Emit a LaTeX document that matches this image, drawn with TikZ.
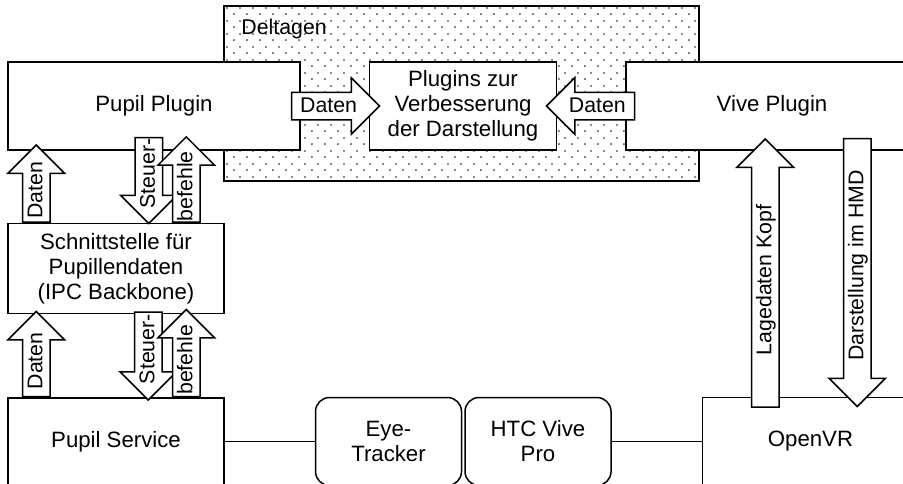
\documentclass[tikz,border=0pt]{standalone}
\usepackage{fontspec}
\setmainfont{Liberation Sans}
\usetikzlibrary{positioning,shapes.arrows,patterns.meta}

\newcommand\diagfont{\fontsize{22.2}{25}\selectfont}
\newcommand\arrowfont{\fontsize{21.3}{25}\selectfont}

% sparse staggered dots for the Deltagen area
\tikzdeclarepattern{
  name=deltadots,
  type=uncolored,
  bottom left={(-1pt,-1pt)},
  top right={(12pt,11.5pt)},
  tile size={(13pt,12.5pt)},
  code={
    \fill (0pt,0pt) circle (0.95pt);
    \fill (6.5pt,6.25pt) circle (0.95pt);
  }
}

\begin{document}
\begin{tikzpicture}[
  x=1pt, y=-1pt,
  box/.style={draw, fill=white, line width=1.5pt, align=center, font=\diagfont, inner sep=0pt},
  roundbox/.style={box, rounded corners=14pt},
  fatarrow/.style={single arrow, draw, fill=white, line width=1.5pt, font=\arrowfont,
    single arrow head extend=14.5pt, inner xsep=0pt, inner ysep=3pt,
    text height=16pt, text depth=4pt, anchor=tail},
  uparrow/.style={fatarrow, rotate=90},
  downarrow/.style={fatarrow, rotate=90, shape border rotate=180},
  link/.style={line width=1.5pt}
]
\useasboundingbox (0,0) rectangle (903,483);
\clip (0,0) rectangle (903,483);

% Deltagen area
\node[draw, line width=1.5pt, pattern=deltadots, pattern color=black!90,
  minimum width=475pt, minimum height=175pt, inner sep=0pt] (deltagen) at (461.5,93.5) {};
\node[font=\arrowfont, anchor=base west, inner sep=0pt] (deltalabel)
  at ([xshift=18pt,yshift=-29pt]deltagen.north west) {Deltagen};

% boxes
\node[box, minimum width=292pt, minimum height=88pt] (pplugin) at (154,106) {Pupil Plugin};
\node[box, minimum width=187pt, minimum height=88pt, right=68pt of pplugin] (improve)
  {Plugins zur\\Verbesserung\\der Darstellung};
\node[box, minimum width=292pt, minimum height=88pt, right=68pt of improve] (vplugin) {Vive Plugin};
\node[box, minimum width=216pt, minimum height=90pt, below right=72pt and 0pt of pplugin.south west] (backbone)
  {Schnittstelle für\\Pupillendaten\\(IPC Backbone)};
\node[box, minimum width=216pt, minimum height=87pt, below=83pt of backbone] (pservice) {Pupil Service};
\node[roundbox, minimum width=146pt, minimum height=88pt, right=90pt of pservice] (eyetracker) {Eye-\\Tracker};
\node[roundbox, minimum width=146pt, minimum height=88pt, right=2pt of eyetracker] (htcvive) {HTC Vive\\Pro};
\node[box, minimum width=216pt, minimum height=88pt, right=90pt of htcvive] (openvr) {OpenVR};

\draw[link] (pservice) -- (eyetracker);
\draw[link] (htcvive) -- (openvr);

% block arrows
\node[fatarrow, minimum height=88pt] (datenin) at ([xshift=-10pt]pplugin.east) {Daten};
\node[fatarrow, shape border rotate=180, minimum height=88pt] (datenvive) at ([xshift=10pt]vplugin.west) {Daten};
\node[uparrow, minimum height=77pt] (daten1) at ([xshift=29pt]backbone.north west) {Daten};
\node[downarrow, minimum height=86pt] (steuer1) at ([xshift=141.5pt,yshift=14pt]pplugin.south west) {Steuer-};
\node[uparrow, minimum height=82pt] (befehle1) at ([xshift=179pt]backbone.north west) {befehle};
\node[uparrow, minimum height=85pt] (daten2) at ([xshift=29pt]pservice.north west) {Daten};
\node[downarrow, minimum height=88pt] (steuer2) at ([xshift=141pt,yshift=3pt]backbone.south west) {Steuer-};
\node[uparrow, minimum height=87pt] (befehle2) at ([xshift=179pt]pservice.north west) {befehle};
\node[uparrow, minimum height=268pt] (lagedaten) at ([xshift=63.5pt,yshift=-11pt]openvr.north west) {Lagedaten Kopf};
\node[downarrow, minimum height=268pt] (darstellung) at ([xshift=232pt,yshift=13pt]vplugin.south west) {Darstellung im HMD};
\end{tikzpicture}
\end{document}
